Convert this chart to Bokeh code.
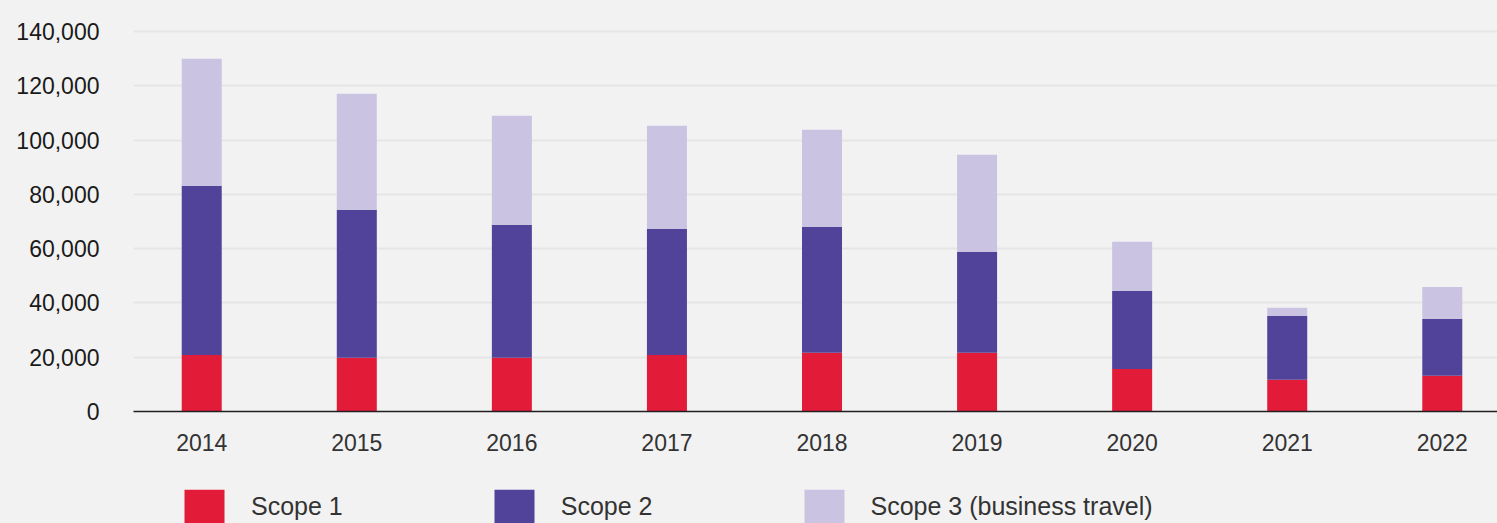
from bokeh.plotting import figure
from bokeh.layouts import column
from bokeh.models import ColumnDataSource, Legend, LegendItem, FixedTicker, NumeralTickFormatter, Range1d
from bokeh.embed import file_html
from bokeh.resources import INLINE

years = [2014, 2015, 2016, 2017, 2018, 2019, 2020, 2021, 2022]
year_labels = ["2014", "2015", "2016", "2017", "2018", "2019", "2020", "2021", "2022"]
scope1 = [20800, 19800, 19800, 20800, 21600, 21600, 15700, 11700, 13200]
scope2 = [62400, 54500, 49000, 46500, 46400, 37200, 28700, 23500, 20900]
scope3 = [46800, 42800, 40200, 38000, 35800, 35800, 18100, 3000, 11800]
series_names = ["Scope 1", "Scope 2", "Scope 3 (business travel)"]
colors = ["#e21c38", "#52439a", "#cbc3e2"]
y_ticks = [0, 20000, 40000, 60000, 80000, 100000, 120000, 140000]

BG = "#f2f2f2"
FONT = "Liberation Sans"
W = 1497

src = ColumnDataSource(dict(x=years, s1=scope1, s2=scope2, s3=scope3))

p = figure(width=W, height=470, output_backend="svg", toolbar_location=None,
           x_range=Range1d(2013.56, 2022.356), y_range=Range1d(0, 147000),
           min_border_left=133, min_border_right=0, min_border_top=12, min_border_bottom=59)

p.vbar_stack(["s1", "s2", "s3"], x="x", width=0.258, color=colors, source=src,
             line_color=None)

p.background_fill_color = BG
p.border_fill_color = BG
p.outline_line_color = None

p.xgrid.visible = False
p.ygrid.grid_line_color = "#e5e5e5"
p.ygrid.grid_line_width = 2
p.ygrid.ticker = FixedTicker(ticks=y_ticks)

p.yaxis.ticker = FixedTicker(ticks=y_ticks)
p.yaxis.formatter = NumeralTickFormatter(format="0,0")
p.yaxis.axis_line_color = None
p.yaxis.major_tick_line_color = None
p.yaxis.minor_tick_line_color = None
p.yaxis.major_label_standoff = 28
p.yaxis.major_label_text_font = FONT
p.yaxis.major_label_text_font_size = "23px"
p.yaxis.major_label_text_color = "#1a1a1a"

p.xaxis.ticker = FixedTicker(ticks=years)
p.xaxis.major_label_overrides = {y: l for y, l in zip(years, year_labels)}
p.xaxis.axis_line_color = "#231f20"
p.xaxis.axis_line_width = 1.5
p.xaxis.major_tick_line_color = None
p.xaxis.minor_tick_line_color = None
p.xaxis.major_tick_out = 0
p.xaxis.major_label_standoff = 22
p.xaxis.major_label_text_font = FONT
p.xaxis.major_label_text_font_size = "23px"
p.xaxis.major_label_text_color = "#333333"

# legend strip below the chart (its frame is aligned with the chart's frame)
lg = figure(width=W, height=53, output_backend="svg", toolbar_location=None,
            x_range=Range1d(0, 1), y_range=Range1d(0, 1),
            min_border_left=0, min_border_right=0, min_border_top=0, min_border_bottom=0)
lg.axis.visible = False
lg.grid.visible = False
lg.background_fill_color = BG
lg.border_fill_color = BG
lg.outline_line_color = None
# zero-height swatch carriers placed outside the visible range
dummies = [lg.vbar(x=[-5], top=[0], width=0.1, color=c, line_color=None) for c in colors]

legend = Legend(items=[LegendItem(label=n, renderers=[r]) for n, r in zip(series_names, dummies)],
                orientation="horizontal", location=(46, -4),
                glyph_width=50, glyph_height=42, label_standoff=22, spacing=146,
                padding=0, margin=0, border_line_alpha=0, background_fill_alpha=0,
                label_text_font=FONT, label_text_font_size="25px", label_text_color="#333333")
lg.add_layout(legend, "center")

layout = column(p, lg, spacing=0)

html = file_html(layout, INLINE)
html = html.replace("<body>", '<body style="background:#f2f2f2">')
open("out.html", "w").write(html)
